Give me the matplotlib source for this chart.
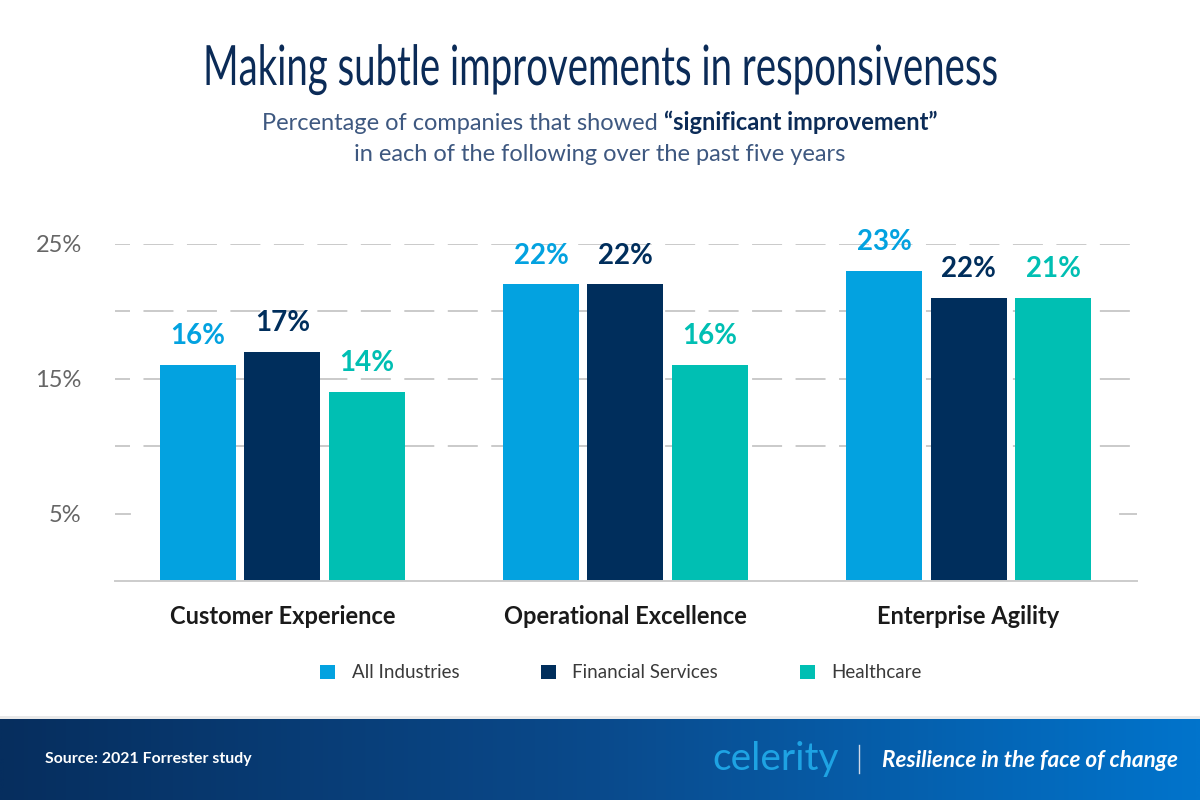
import matplotlib
matplotlib.use("Agg")
import matplotlib.pyplot as plt
import numpy as np
from matplotlib.patches import Patch, Rectangle
from matplotlib.patheffects import AbstractPathEffect
from matplotlib.transforms import Affine2D
from matplotlib.colors import LinearSegmentedColormap
from matplotlib.lines import Line2D

plt.rcParams["lines.scale_dashes"] = False
plt.rcParams["font.family"] = ["Lato", "DejaVu Sans"]

# ---------------- data ----------------
categories = ["Customer Experience", "Operational Excellence", "Enterprise Agility"]
series_names = ["All Industries", "Financial Services", "Healthcare"]
all_industries = [16, 22, 23]
financial_services = [17, 22, 21]
healthcare = [14, 16, 21]
all_labels = ["16%", "22%", "23%"]
fin_labels = ["17%", "22%", "22%"]
health_labels = ["14%", "16%", "21%"]
ytick_values = [5, 15, 25]
ytick_labels = ["5%", "15%", "25%"]
grid_values = [10, 15, 20, 25]

title = "Making subtle improvements in responsiveness"
subtitle_a = "Percentage of companies that showed "
subtitle_b = "\u201csignificant improvement\u201d"
subtitle_2 = "in each of the following over the past five years"
source_text = "Source: 2021 Forrester study"
brand = "celerity"
tagline = "Resilience in the face of change"

C_ALL = "#03a2e0"
C_FIN = "#002e5c"
C_HC = "#00bfb3"
colors = [C_ALL, C_FIN, C_HC]

W, H = 1200, 800
fig = plt.figure(figsize=(12, 8), dpi=100)
fig.patch.set_facecolor("white")


class HSqueeze(AbstractPathEffect):
    def __init__(self, sx, cx):
        super().__init__()
        self.sx = sx
        self.cx = cx

    def draw_path(self, renderer, gc, tpath, affine, rgbFace=None):
        aff = affine + Affine2D().translate(-self.cx, 0).scale(self.sx, 1).translate(self.cx, 0)
        renderer.draw_path(gc, tpath, aff, rgbFace)


# ---------------- main axes ----------------
ax = fig.add_axes([115 / W, 219 / H, (1137 - 115) / W, (581 - 244) / H])
ax.set_xlim(-0.488, 2.491)
ax.set_ylim(0, 25)

x = np.arange(len(categories))
bw = 0.2216
step = 0.2464
series_vals = [all_industries, financial_services, healthcare]
series_labels = [all_labels, fin_labels, health_labels]
for i, (vals, labs, col) in enumerate(zip(series_vals, series_labels, colors)):
    xs = x + (i - 1) * step
    ax.bar(xs, vals, width=bw, color=col, zorder=3, label=series_names[i])
    for xi, v, lab in zip(xs, vals, labs):
        ax.annotate(lab, (xi, v), xytext=(0, 15), textcoords="offset points",
                    ha="center", va="baseline", fontsize=20, fontweight="bold",
                    color=col, zorder=4, annotation_clip=False)

# gridlines
dash = (10.8, (21.6, 9.7))
for g in grid_values:
    ax.axhline(g, color="#c6c6c6", lw=1.3, ls=dash, zorder=1)
# 5% only short stubs at the ends
ax.axhline(5, xmin=0, xmax=15 / 1022, color="#c6c6c6", lw=1.3, zorder=1)
ax.axhline(5, xmin=1 - 17 / 1022, xmax=1, color="#c6c6c6", lw=1.3, zorder=1)

for s in ["top", "right", "left"]:
    ax.spines[s].set_visible(False)
ax.spines["bottom"].set_color("#cccccc")
ax.spines["bottom"].set_linewidth(1.4)
ax.spines["bottom"].set_zorder(5)

ax.set_yticks(ytick_values)
ax.set_yticklabels(ytick_labels, fontsize=17, fontweight="normal", color="#666666")
ax.tick_params(axis="y", length=0, pad=24)
ax.set_xticks(x)
ax.set_xticklabels(categories, fontsize=17, fontweight="bold", color="#1a1a1a")
ax.tick_params(axis="x", length=0, pad=17)
ax.set_facecolor("none")

# ---------------- legend ----------------
handles = [Patch(facecolor=c, edgecolor="none") for c in colors]
leg = fig.legend(handles, series_names, loc="center left",
                 bbox_to_anchor=(320 / W, 1 - 673 / H), ncol=3, frameon=False,
                 fontsize=13.5, handlelength=0.8, handleheight=0.8,
                 handletextpad=0.88, columnspacing=4.35, borderpad=0, borderaxespad=0)
for t in leg.get_texts():
    t.set_color("#3a3a3a")

# ---------------- title / subtitle ----------------
renderer = fig.canvas.get_renderer()
t_title = fig.text(0.5, 1 - 85 / H, title, ha="center", va="baseline",
                   fontsize=40, color="#0b2b57", fontweight="normal")
tw = t_title.get_window_extent(renderer).width
t_title.set_path_effects([HSqueeze(794 / tw, W / 2)])

ta = fig.text(0, 1 - 130 / H, subtitle_a, ha="left", va="baseline", fontsize=17,
              fontweight="normal", color="#3e5880")
tb = fig.text(0, 1 - 130 / H, subtitle_b, ha="left", va="baseline", fontsize=17,
              fontweight="bold", color="#0b2b57")
wa = ta.get_window_extent(renderer).width
wb = tb.get_window_extent(renderer).width
x0 = W / 2 - (wa + wb) / 2
ta.set_x(x0 / W)
tb.set_x((x0 + wa) / W)
fig.text(0.5, 1 - 161 / H, subtitle_2, ha="center", va="baseline", fontsize=17,
         fontweight="normal", color="#3e5880")

# ---------------- footer ----------------
fig.add_artist(Rectangle((0, 0), 1, 84 / H, transform=fig.transFigure,
                         facecolor="#e9e9e9", edgecolor="none", zorder=0))
axf = fig.add_axes([0, 0, 1, 81 / H])
cmap = LinearSegmentedColormap.from_list("band", ["#062e5e", "#0a4a8c", "#0174cc"])
axf.imshow(np.linspace(0, 1, 512).reshape(1, -1), cmap=cmap, aspect="auto",
           extent=[0, 1, 0, 1])
axf.set_axis_off()

fig.text(45 / W, 1 - 759 / H, source_text, ha="left", va="center", fontsize=11.4,
         fontweight="bold", color="white")
fig.text(712 / W, 1 - 770 / H, brand, ha="left", va="baseline", fontsize=28,
         fontweight="normal", color="#1ea3e3")
fig.add_artist(Line2D([859 / W, 859 / W], [1 - 745 / H, 1 - 773 / H],
                      transform=fig.transFigure, color="#d0d8e8", lw=1))
fig.text(882 / W, 1 - 767 / H, tagline, ha="left", va="baseline", fontsize=16.2,
         fontweight="bold", fontstyle="italic", color="white")

fig.savefig("out.png", dpi=100)
